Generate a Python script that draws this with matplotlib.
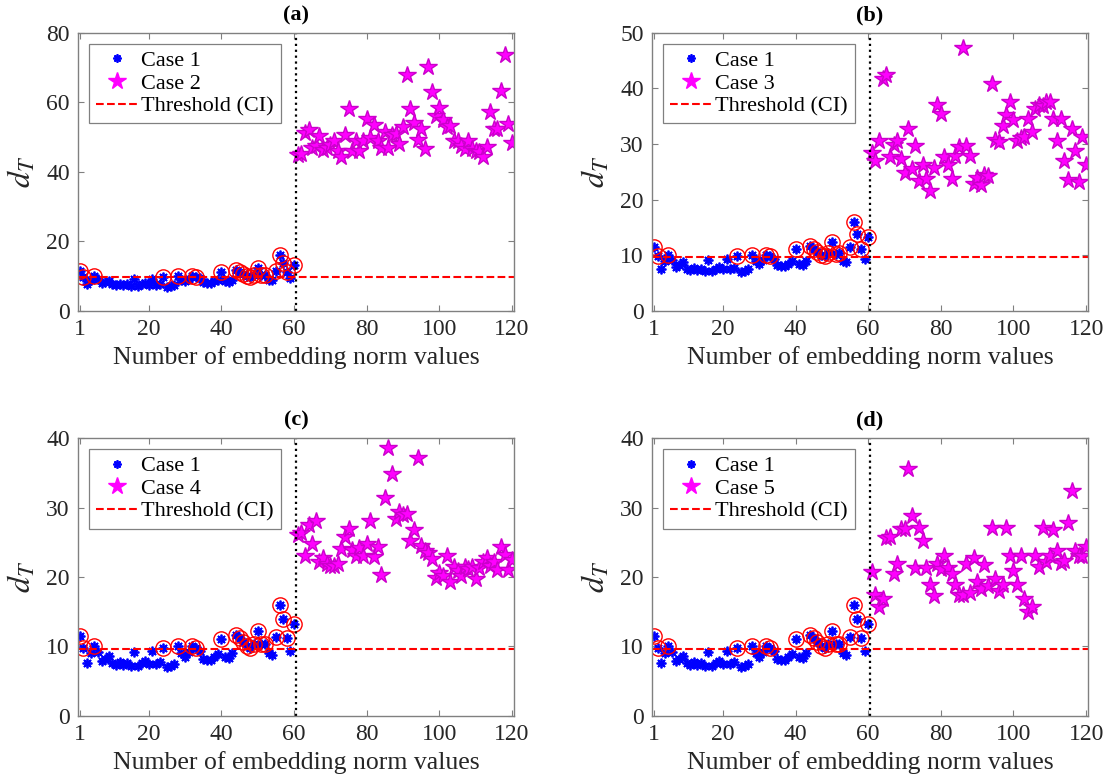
import numpy as np
import matplotlib
matplotlib.use("Agg")
import matplotlib.pyplot as plt
from matplotlib.lines import Line2D

plt.rcParams.update({
    "font.family": ["Liberation Serif", "DejaVu Serif"],
    "mathtext.fontset": "stix",
    "font.size": 14,
    "axes.edgecolor": "#808080",
    "axes.linewidth": 1.0,
    "xtick.direction": "in", "ytick.direction": "in",
    "xtick.top": True, "ytick.right": True,
    "xtick.color": "#808080", "ytick.color": "#808080",
    "xtick.labelcolor": "#262626", "ytick.labelcolor": "#262626",
    "xtick.labelsize": 17, "ytick.labelsize": 17,
})

THRESHOLD = 9.6

# healthy reference case, same 60 values in every panel
case1 = [11.5, 9.8, 7.6, 9.0, 10.1, 9.2, 7.9, 8.2, 8.7, 7.6,
         7.4, 7.7, 7.3, 7.6, 7.2, 9.2, 7.2, 7.6, 7.9, 7.5,
         9.3, 7.5, 7.7, 9.8, 7.0, 7.2, 7.5, 10.0, 9.0, 8.5,
         9.2, 10.0, 9.8, 9.4, 8.2, 8.0, 8.1, 8.5, 8.9, 11.1,
         8.5, 8.3, 9.0, 11.7, 11.2, 10.6, 10.1, 9.8, 10.4, 12.3,
         10.3, 10.4, 9.0, 8.8, 11.4, 16.0, 13.9, 11.2, 9.4, 13.3]

case2 = [44.9, 45.2, 51.1, 52.1, 46.8, 47.5, 50.2, 46.3, 46.8, 47.8,
         48.8, 46.0, 44.2, 50.6, 58.0, 46.0, 48.8, 46.0, 48.8, 55.2,
         49.8, 53.4, 48.8, 46.8, 51.4, 46.8, 50.5, 50.8, 48.1, 52.9,
         67.9, 58.0, 54.2, 49.1, 52.3, 46.5, 70.3, 63.1, 56.1, 58.3,
         54.9, 52.9, 53.3, 48.8, 48.8, 47.4, 46.5, 48.8, 46.5, 46.0,
         45.6, 44.4, 47.2, 57.1, 52.3, 52.3, 63.4, 73.7, 53.8, 48.2]

case3 = [28.4, 27.0, 30.5, 41.7, 42.4, 27.6, 29.9, 30.5, 27.3, 24.8,
         32.7, 25.5, 29.7, 23.3, 26.3, 23.7, 21.6, 25.7, 37.1, 35.4,
         27.6, 26.3, 23.7, 27.8, 29.4, 47.2, 29.7, 27.8, 22.8, 23.9,
         22.7, 24.5, 24.2, 40.8, 30.8, 30.3, 33.3, 35.3, 37.6, 34.4,
         30.5, 31.1, 31.3, 34.5, 32.2, 36.3, 37.1, 36.8, 37.6, 37.6,
         34.5, 30.5, 34.5, 26.9, 23.5, 32.7, 28.8, 23.1, 31.3, 26.3]

case4 = [26.1, 26.4, 23.0, 27.5, 24.7, 28.1, 22.2, 22.8, 21.9, 21.6,
         21.6, 21.8, 24.0, 25.8, 26.9, 23.9, 23.0, 24.2, 23.0, 24.7,
         28.1, 22.9, 24.3, 20.3, 31.4, 38.6, 34.8, 28.3, 29.4, 28.9,
         29.1, 25.2, 26.7, 37.1, 24.5, 23.7, 23.5, 22.6, 19.8, 20.6,
         20.2, 23.0, 19.3, 21.4, 20.8, 20.1, 21.4, 21.2, 21.4, 19.7,
         21.3, 22.2, 22.7, 21.6, 22.2, 21.0, 24.3, 23.2, 21.0, 22.5]

case5 = [20.7, 17.4, 15.7, 16.8, 25.6, 25.7, 20.5, 21.8, 26.9, 26.9,
         35.6, 28.8, 21.3, 27.0, 25.2, 21.3, 18.9, 17.3, 21.8, 21.2,
         23.0, 21.3, 20.5, 18.9, 17.4, 17.4, 21.8, 17.7, 22.7, 19.3,
         18.3, 21.7, 18.7, 27.1, 19.7, 18.0, 18.9, 27.1, 23.0, 20.8,
         18.9, 23.0, 16.9, 15.0, 15.7, 23.0, 21.4, 27.1, 22.1, 23.0,
         26.7, 23.7, 22.0, 22.3, 27.8, 32.4, 23.7, 23.0, 23.0, 24.3]

panels = [("(a)", "Case 2", case2, 80, 20),
          ("(b)", "Case 3", case3, 50, 10),
          ("(c)", "Case 4", case4, 40, 10),
          ("(d)", "Case 5", case5, 40, 10)]

x1 = np.arange(1, 61)
x2 = np.arange(61, 121)
c1 = np.array(case1)
above = c1 > THRESHOLD

fig = plt.figure(figsize=(11.09, 7.83), dpi=100)
boxes = [(0.0703, 0.603), (0.588, 0.603), (0.0703, 0.0856), (0.588, 0.0856)]
w, h = 0.393, 0.355

for (title, lab, vals, ymax, ystep), (l, b) in zip(panels, boxes):
    ax = fig.add_axes([l, b, w, h])
    ax.plot(x1, c1, ls="none", marker=(8, 2, 0), ms=7, mew=1.3, color="blue")
    ax.plot(x2, vals, ls="none", marker="*", ms=13, color="magenta", mec="#cc00cc")
    ax.plot([0.5, 120.5], [THRESHOLD, THRESHOLD], "--", color="red", lw=1.5)
    ax.plot(x1[above], c1[above], ls="none", marker="o", ms=11, mfc="none", mec="red", mew=1.0)
    ax.axvline(60.5, color="black", ls=":", lw=1.6)

    ax.set_xlim(0.5, 120.5)
    ax.set_ylim(0, ymax)
    ax.set_xticks([1, 20, 40, 60, 80, 100, 120])
    ax.set_yticks(np.arange(0, ymax + 1, ystep))
    ax.tick_params(length=4, width=0.8, pad=6)
    ax.set_xlabel("Number of embedding norm values", fontsize=18.5, color="#262626", labelpad=4)
    ax.set_ylabel("$d_T$", fontsize=23, color="#262626", labelpad=6)
    ax.set_title(title, fontsize=16, fontweight="bold", pad=9)

    handles = [Line2D([], [], ls="none", marker=(8, 2, 0), ms=6, mew=1.3, color="blue"),
               Line2D([], [], ls="none", marker="*", ms=13, color="magenta"),
               Line2D([], [], ls="--", color="red", lw=1.5)]
    leg = ax.legend(handles, ["Case 1", lab, "Threshold (CI)"], loc="upper left",
                    fontsize=16, fancybox=False, framealpha=1, edgecolor="#808080",
                    handlelength=1.9, handletextpad=0.15, labelspacing=0.1,
                    borderpad=0.3, borderaxespad=0.5)
    leg.get_frame().set_linewidth(0.9)

fig.savefig("out.png", dpi=100)
